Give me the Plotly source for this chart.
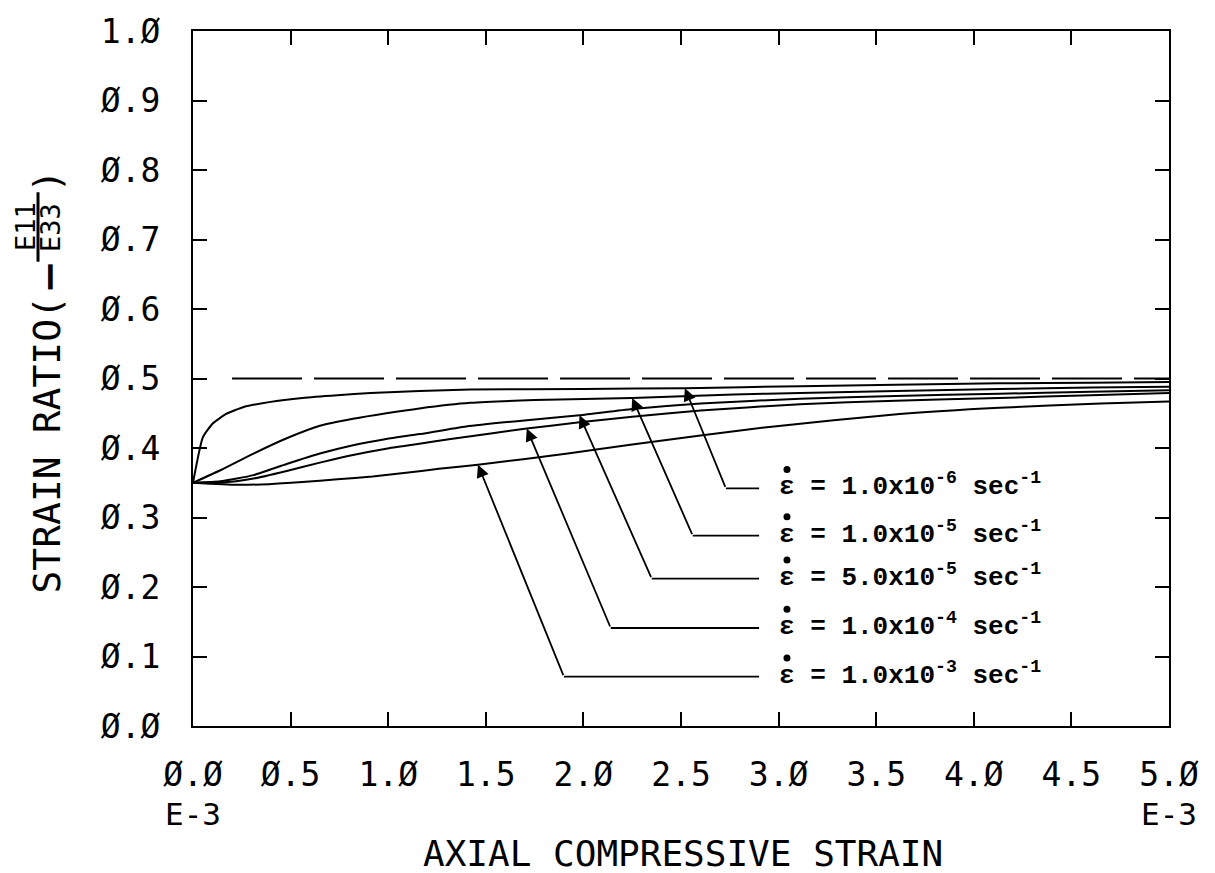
import numpy as np
import plotly.graph_objects as go

# Axial compressive strain (units of 1E-3) and strain ratio -E11/E33
strain_r1e6 = [0, 0.05, 0.10, 0.17, 0.26, 0.39, 0.56, 0.74, 0.91, 1.16, 1.42, 2.0, 2.52, 3.11, 3.6, 4.13, 4.6, 5.0]
ratio_r1e6 = [0.35, 0.415, 0.435, 0.449, 0.459, 0.466, 0.472, 0.476, 0.479, 0.482, 0.484, 0.485, 0.486, 0.489, 0.491, 0.493, 0.494, 0.495]

strain_r1e5 = [0, 0.14, 0.31, 0.48, 0.65, 0.82, 0.99, 1.16, 1.42, 1.75, 2.25, 2.77, 3.11, 3.6, 4.13, 4.6, 5.0]
ratio_r1e5 = [0.35, 0.368, 0.392, 0.414, 0.432, 0.442, 0.450, 0.457, 0.465, 0.469, 0.472, 0.477, 0.479, 0.482, 0.485, 0.487, 0.488]

strain_r5e5 = [0, 0.14, 0.31, 0.48, 0.65, 0.82, 0.99, 1.16, 1.40, 1.71, 1.98, 2.25, 2.60, 3.11, 3.6, 4.13, 4.6, 5.0]
ratio_r5e5 = [0.35, 0.352, 0.361, 0.377, 0.392, 0.404, 0.413, 0.420, 0.431, 0.440, 0.447, 0.456, 0.464, 0.471, 0.475, 0.478, 0.481, 0.483]

strain_r1e4 = [0, 0.14, 0.31, 0.48, 0.65, 0.82, 0.99, 1.16, 1.32, 1.71, 1.98, 2.25, 2.60, 3.11, 3.6, 4.13, 4.6, 5.0]
ratio_r1e4 = [0.35, 0.350, 0.356, 0.367, 0.379, 0.390, 0.399, 0.406, 0.413, 0.428, 0.437, 0.445, 0.454, 0.463, 0.468, 0.472, 0.476, 0.479]

strain_r1e3 = [0, 0.225, 0.39, 0.56, 0.74, 0.92, 1.08, 1.26, 1.46, 1.92, 2.25, 2.60, 2.94, 3.62, 4.13, 4.65, 5.0]
ratio_r1e3 = [0.35, 0.347, 0.348, 0.351, 0.355, 0.359, 0.364, 0.370, 0.376, 0.392, 0.405, 0.418, 0.430, 0.449, 0.458, 0.464, 0.467]

# Incompressible limit (dashed)
limit_strain = [0.2, 5.0]
limit_ratio = [0.5, 0.5]

# Strain-rate labels and their leader lines (arrow tip strain, elbow strain, label row)
rate_text = ["1.0x10<sup>-6</sup>", "1.0x10<sup>-5</sup>", "5.0x10<sup>-5</sup>",
             "1.0x10<sup>-4</sup>", "1.0x10<sup>-3</sup>"]
tip_strain = [2.52, 2.25, 1.98, 1.71, 1.46]
elbow_strain = [2.73, 2.56, 2.35, 2.14, 1.90]
label_row = [0.342, 0.274, 0.212, 0.141, 0.071]
leader_end = 2.90
label_x = 2.99

# Axis ticks
x_ticks = [0, 0.5, 1.0, 1.5, 2.0, 2.5, 3.0, 3.5, 4.0, 4.5, 5.0]
x_ticktext = ["Ø.Ø", "Ø.5", "1.Ø", "1.5", "2.Ø", "2.5", "3.Ø", "3.5", "4.Ø", "4.5", "5.Ø"]
y_ticks = [0, 0.1, 0.2, 0.3, 0.4, 0.5, 0.6, 0.7, 0.8, 0.9, 1.0]
y_ticktext = ["Ø.Ø", "Ø.1", "Ø.2", "Ø.3", "Ø.4", "Ø.5", "Ø.6", "Ø.7", "Ø.8", "Ø.9", "1.Ø"]

curves = [
    (strain_r1e6, ratio_r1e6),
    (strain_r1e5, ratio_r1e5),
    (strain_r5e5, ratio_r5e5),
    (strain_r1e4, ratio_r1e4),
    (strain_r1e3, ratio_r1e3),
]

AXFONT = "DejaVu Sans Mono"
LBLFONT = "Liberation Mono"
LBLSIZE = 26
# offset of the rate dot above the epsilon glyph, in axis units
DOT_DX = 0.053
DOT_DY = 0.027

fig = go.Figure()

for xs, ys in curves:
    fig.add_trace(go.Scatter(x=xs, y=ys, mode="lines",
                             line=dict(color="black", width=2, shape="spline", smoothing=0.5),
                             showlegend=False, hoverinfo="skip"))

fig.add_trace(go.Scatter(x=limit_strain, y=limit_ratio, mode="lines",
                         line=dict(color="black", width=2.2, dash="70px,12px"),
                         showlegend=False, hoverinfo="skip"))

# Leader lines with arrowheads pointing at each curve, plus the rate labels
for (xs, ys), tx, ex, ey, txt in zip(curves, tip_strain, elbow_strain, label_row, rate_text):
    ty = float(np.interp(tx, xs, ys))
    fig.add_annotation(x=tx, y=ty, ax=ex, ay=ey, xref="x", yref="y", axref="x", ayref="y",
                       text="", showarrow=True, arrowhead=2, arrowsize=1.4,
                       arrowwidth=1.8, arrowcolor="black", standoff=0)
    fig.add_shape(type="line", x0=ex, y0=ey, x1=leader_end, y1=ey,
                  line=dict(color="black", width=1.8))
    fig.add_annotation(x=label_x, y=ey, xref="x", yref="y", xanchor="left", yanchor="middle",
                       text="ε = " + txt + " sec<sup>-1</sup>", showarrow=False, yshift=3,
                       font=dict(family=LBLFONT, size=LBLSIZE, color="black", weight="bold"))

# Rate dots over the epsilons
fig.add_trace(go.Scatter(x=[label_x + DOT_DX] * len(label_row),
                         y=[r + DOT_DY for r in label_row], mode="markers",
                         marker=dict(color="black", size=7), cliponaxis=False,
                         showlegend=False, hoverinfo="skip"))

# Exponent marks under the end tick labels
for xv in (0, 5):
    fig.add_annotation(x=xv, y=-0.098, xref="x", yref="paper", text="E-3", showarrow=False,
                       xanchor="center", yanchor="top",
                       font=dict(family=AXFONT, size=31, color="black"))

# X axis title
fig.add_annotation(x=0.502, y=-0.183, xref="paper", yref="paper",
                   text="AXIAL COMPRESSIVE STRAIN", showarrow=False,
                   xanchor="center", yanchor="middle",
                   font=dict(family=AXFONT, size=36, color="black"))

# Y axis title: STRAIN RATIO( - E11/E33 )
ytf = dict(family=AXFONT, size=38, color="black")
fig.add_annotation(x=-0.1496, y=0.405, xref="paper", yref="paper", text="STRAIN RATIO(",
                   textangle=-90, showarrow=False, xanchor="center", yanchor="middle", font=ytf)
fig.add_annotation(x=-0.1475, y=0.647, xref="paper", yref="paper", text="<b>−</b>",
                   textangle=-90, showarrow=False, xanchor="center", yanchor="middle",
                   font=dict(family="DejaVu Sans", size=40, color="black"))
fig.add_annotation(x=-0.1711, y=0.718, xref="paper", yref="paper", text="E11",
                   textangle=-90, showarrow=False, xanchor="center", yanchor="middle",
                   font=dict(family=AXFONT, size=27, color="black"))
fig.add_annotation(x=-0.1455, y=0.718, xref="paper", yref="paper", text="E33",
                   textangle=-90, showarrow=False, xanchor="center", yanchor="middle",
                   font=dict(family=AXFONT, size=27, color="black"))
fig.add_shape(type="line", xref="paper", yref="paper", x0=-0.1588, x1=-0.1588, y0=0.668, y1=0.768,
              line=dict(color="black", width=3))
fig.add_annotation(x=-0.1496, y=0.785, xref="paper", yref="paper", text=")",
                   textangle=-90, showarrow=False, xanchor="center", yanchor="middle", font=ytf)

axis_common = dict(showline=True, linecolor="black", linewidth=2, mirror="ticks",
                   ticks="inside", ticklen=14, tickwidth=1.5, tickcolor="black",
                   showgrid=False, zeroline=False,
                   tickfont=dict(family=AXFONT, size=33, color="black"))

fig.update_xaxes(range=[0, 5], tickvals=x_ticks, ticktext=x_ticktext,
                 ticklabelstandoff=18, **axis_common)
fig.update_yaxes(range=[0, 1], tickvals=y_ticks, ticktext=y_ticktext,
                 ticklabelstandoff=24, **axis_common)

fig.update_layout(width=1215, height=873, plot_bgcolor="white", paper_bgcolor="white",
                  margin=dict(l=193, r=46, t=23, b=147), showlegend=False)

fig.write_html("out.html")
